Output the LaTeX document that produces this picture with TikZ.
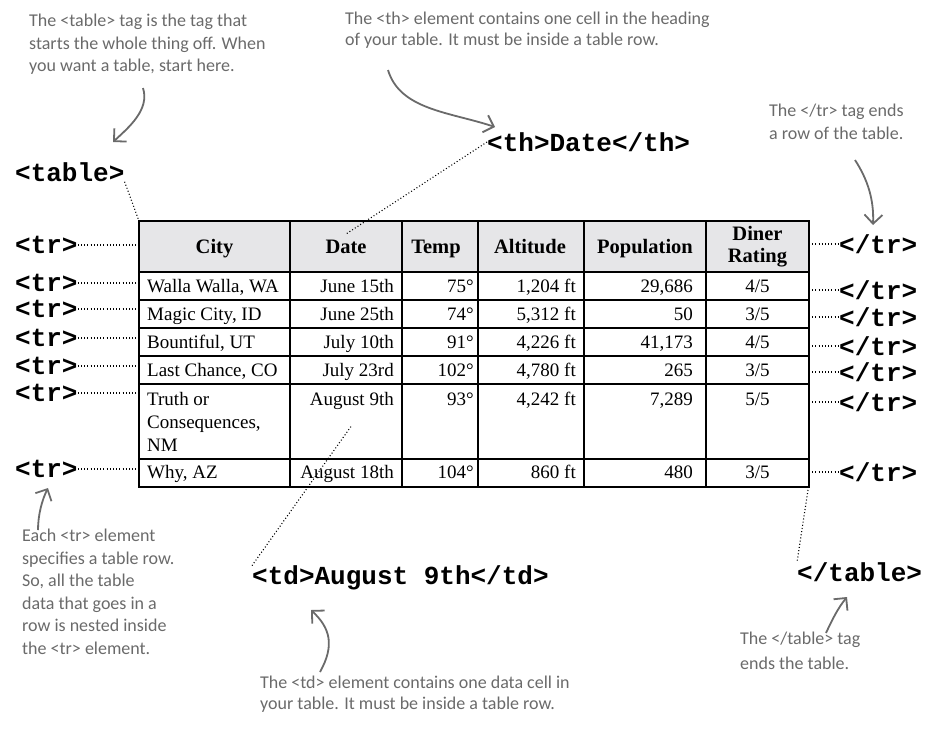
\documentclass[tikz,border=0pt]{standalone}
\usepackage{fontspec}
\setmainfont{Liberation Serif}
\newfontfamily\handfont{Carlito}
\newfontfamily\tagfont{Liberation Mono}
\usetikzlibrary{arrows.meta}
\definecolor{hand}{HTML}{6A6A6A}
\definecolor{headgray}{HTML}{E6E6E8}
\begin{document}
\begin{tikzpicture}[x=1pt,y=-1pt,
  tagtext/.style={font=\tagfont\bfseries\fontsize{26}{28}\selectfont, inner sep=0pt},
  note/.style={font=\handfont\fontsize{18}{22.5}\selectfont, text=hand, align=left, inner sep=0pt, anchor=north west},
  headtext/.style={font=\bfseries\fontsize{20.5}{22}\selectfont, inner sep=0pt},
  celltext/.style={font=\fontsize{19}{23}\selectfont, inner sep=0pt},
  cellL/.style={celltext, anchor=base west},
  cellR/.style={celltext, anchor=base east},
  cellC/.style={celltext, anchor=base},
  dotline/.style={line width=1.1pt, dash pattern=on 1pt off 2.2pt},
  notearrow/.style={hand, line width=1.8pt, -{Straight Barb[length=9pt,width=18pt]}},
  gridline/.style={line width=1.8pt}]
\useasboundingbox (0,0) rectangle (935,740);

% ---------- table ----------
\coordinate (tl) at (139,221);
\coordinate (br) at (809,487);
\fill[headgray] (139,221) rectangle (809,272);
\foreach \yy in {272,300,328,356,384,459}
  \draw[gridline] (139,\yy) -- (809,\yy);
\foreach \xx in {290,402,478,584,706}
  \draw[gridline] (\xx,221) -- (\xx,487);
\draw[line width=2.2pt] (tl) rectangle (br);

% header
\node[headtext, anchor=base] (hcity) at (214.5,253) {City};
\node[headtext, anchor=base] (hdate) at (346,253) {Date};
\node[headtext, anchor=base] (htemp) at (436,253) {Temp};
\node[headtext, anchor=base] (halt) at (530,253) {Altitude};
\node[headtext, anchor=base] (hpop) at (645,253) {Population};
\node[headtext, align=center] (hrate) at (757.5,247) {Diner\\Rating};

% rows (baselines)
\node[cellL] (c1) at (147,292) {Walla Walla, WA};
\node[cellR] (d1) at (394,292) {June 15th};
\node[cellR] (t1) at (474,292) {75°};
\node[cellR] (a1) at (576,292) {1,204 ft};
\node[cellR] (p1) at (693,292) {29,686};
\node[cellC] (r1) at (757.5,292) {4/5};

\node[cellL] (c2) at (147,320) {Magic City, ID};
\node[cellR] (d2) at (394,320) {June 25th};
\node[cellR] (t2) at (474,320) {74°};
\node[cellR] (a2) at (576,320) {5,312 ft};
\node[cellR] (p2) at (693,320) {50};
\node[cellC] (r2) at (757.5,320) {3/5};

\node[cellL] (c3) at (147,348) {Bountiful, UT};
\node[cellR] (d3) at (394,348) {July 10th};
\node[cellR] (t3) at (474,348) {91°};
\node[cellR] (a3) at (576,348) {4,226 ft};
\node[cellR] (p3) at (693,348) {41,173};
\node[cellC] (r3) at (757.5,348) {4/5};

\node[cellL] (c4) at (147,376) {Last Chance, CO};
\node[cellR] (d4) at (394,376) {July 23rd};
\node[cellR] (t4) at (474,376) {102°};
\node[cellR] (a4) at (576,376) {4,780 ft};
\node[cellR] (p4) at (693,376) {265};
\node[cellC] (r4) at (757.5,376) {3/5};

\node[celltext, anchor=north west, align=left] (c5) at (147,392) {Truth or\\Consequences,\\NM};
\node[cellR] (d5) at (394,405) {August 9th};
\node[cellR] (t5) at (474,405) {93°};
\node[cellR] (a5) at (576,405) {4,242 ft};
\node[cellR] (p5) at (693,405) {7,289};
\node[cellC] (r5) at (757.5,405) {5/5};

\node[cellL] (c6) at (147,478) {Why, AZ};
\node[cellR] (d6) at (394,478) {August 18th};
\node[cellR] (t6) at (474,478) {104°};
\node[cellR] (a6) at (576,478) {860 ft};
\node[cellR] (p6) at (693,478) {480};
\node[cellC] (r6) at (757.5,478) {3/5};

% ---------- tags ----------
\node[tagtext, anchor=west] (ttable) at (15,172) {<table>};
\node[tagtext, anchor=west] (tth) at (487,142) {<th>Date</th>};
\node[tagtext, anchor=west] (ttd) at (252,578) {<td>August 9th</td>};
\node[tagtext, anchor=west] (tendtable) at (797,572) {</table>};

\foreach \n/\yy in {0/245,1/283,2/309,3/338,4/366,5/393,6/469}{
  \node[tagtext, anchor=west] (trL\n) at (15,\yy) {<tr>};
  \draw[dotline] (trL\n.east) -- (trL\n.east -| tl);
}
\foreach \n/\yy in {0/244,1/290,2/317,3/346,4/372,5/402,6/472}{
  \node[tagtext, anchor=west] (trR\n) at (839,\yy) {</tr>};
  \draw[dotline] (trR\n.west -| br) -- (trR\n.west);
}

% dotted pointers
\coordinate (thtarget) at (346,234);
\coordinate (tdtarget) at (352,425);
\coordinate (brc) at (808,490);
\draw[dotline] (ttable.south east) -- (tl);
\draw[dotline] (tth.west) -- (thtarget);
\draw[dotline] (ttd.north west) -- (tdtarget);
\draw[dotline] (brc) -- (tendtable.north west);

% ---------- notes ----------
\node[note] (n1) at (29,14) {The <table> tag is the tag that\\starts the whole thing off. When\\you want a table, start here.};
\node[note, font=\handfont\fontsize{18}{20.5}\selectfont] (n2) at (345,12) {The <th> element contains one cell in the heading\\of your table. It must be inside a table row.};
\node[note] (n3) at (769,104) {The </tr> tag ends\\a row of the table.};
\node[note] (n4) at (22,529) {Each <tr> element\\specifies a table row.\\So, all the table\\data that goes in a\\row is nested inside\\the <tr> element.};
\node[note, font=\handfont\fontsize{18}{21}\selectfont] (n5) at (260,676) {The <td> element contains one data cell in\\your table. It must be inside a table row.};
\node[note, font=\handfont\fontsize{18}{25}\selectfont] (n6) at (740,632) {The </table> tag\\ends the table.};

% ---------- note arrows ----------
\coordinate (a1s) at (143,88);   \coordinate (a1e) at (113,142);
\coordinate (a2s) at (388,70);   \coordinate (a2e) at (495,127);
\coordinate (a3s) at (855,160);  \coordinate (a3e) at (873,225);
\coordinate (a4s) at (38,530);   \coordinate (a4e) at (48,488);
\coordinate (a5s) at (320,672);  \coordinate (a5e) at (311,610);
\coordinate (a6s) at (826,633);  \coordinate (a6e) at (847,597);
\draw[notearrow] (a1s) .. controls (150,110) and (128,128) .. (a1e);
\draw[notearrow] (a2s) .. controls (400,110) and (450,112) .. (a2e);
\draw[notearrow] (a3s) .. controls (868,180) and (874,200) .. (a3e);
\draw[notearrow] (a4s) .. controls (38,515) and (42,500) .. (a4e);
\draw[notearrow] (a5s) .. controls (335,645) and (330,628) .. (a5e);
\draw[notearrow] (a6s) .. controls (832,620) and (838,608) .. (a6e);
\end{tikzpicture}
\end{document}
